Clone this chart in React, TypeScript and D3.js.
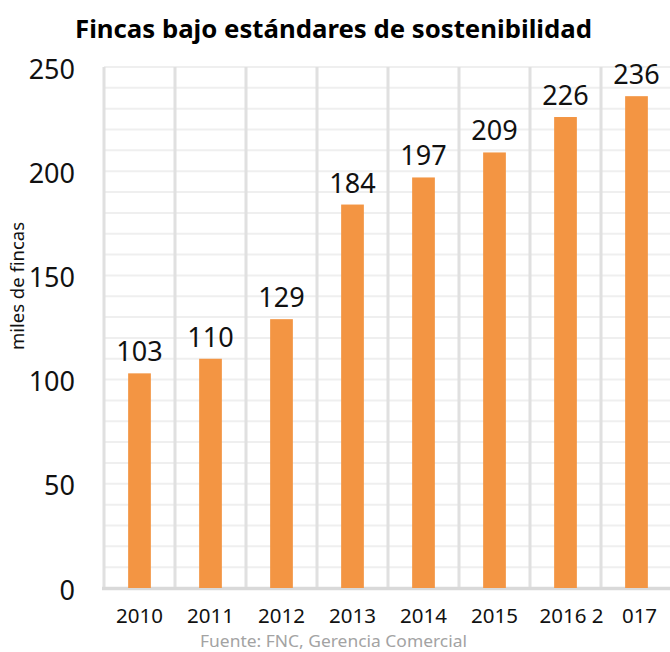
import React from "react";
import * as d3 from "d3";

const categories = ["2010", "2011", "2012", "2013", "2014", "2015", "2016", "2017"];
const tickLabels = ["2010", "2011", "2012", "2013", "2014", "2015", "2016 2", "017"];
const values = [103, 110, 129, 184, 197, 209, 226, 236];
const yTicks = [0, 50, 100, 150, 200, 250];
const gridStep = 10;

const W = 670;
const H = 652;
const FONT = "'Noto Sans', 'Open Sans', sans-serif";

export default function App() {
  const y = d3.scaleLinear().domain([0, 250]).range([588, 67]);
  const cells = d3.scaleBand<string>().domain(categories).range([104, 672]).padding(0);
  const x = d3
    .scaleBand<string>()
    .domain(categories)
    .range([104, 672])
    .paddingInner(0.68)
    .paddingOuter(0.34);

  const gridVals = d3.range(gridStep, 250 + gridStep / 2, gridStep);

  return (
    <svg
      width={W}
      height={H}
      style={{ position: "absolute", left: 0, top: 0, background: "#fff" }}
      fontFamily={FONT}
    >
      <rect x={0} y={0} width={W} height={H} fill="#fff" />
      {/* horizontal grid */}
      {gridVals.map((v) => (
        <line
          key={"h" + v}
          x1={104}
          x2={672}
          y1={y(v)}
          y2={y(v)}
          stroke="#efefef"
          strokeWidth={2}
        />
      ))}
      {/* vertical grid */}
      {categories.map((c) => (
        <line
          key={"v" + c}
          x1={cells(c)!}
          x2={cells(c)!}
          y1={y(250)}
          y2={y(0)}
          stroke="#e0e0e0"
          strokeWidth={3}
        />
      ))}
      {/* x axis line */}
      <line x1={102} x2={672} y1={y(0) + 0.5} y2={y(0) + 0.5} stroke="#d9d9d9" strokeWidth={3.5} />

      {/* bars */}
      {categories.map((c, i) => (
        <rect
          key={"b" + c}
          x={x(c)!}
          width={x.bandwidth()}
          y={y(values[i])}
          height={y(0) - y(values[i])}
          fill="#F39543"
        />
      ))}

      {/* value labels */}
      {categories.map((c, i) => (
        <text
          key={"l" + c}
          x={x(c)! + x.bandwidth() / 2}
          y={y(values[i]) - 12}
          textAnchor="middle"
          fontSize={27}
          fill="#111"
        >
          {values[i]}
        </text>
      ))}

      {/* y tick labels */}
      {yTicks.map((t) => (
        <text key={"y" + t} x={75} y={y(t) + 11.5} textAnchor="end" fontSize={27} fill="#111">
          {t}
        </text>
      ))}

      {/* x tick labels */}
      {categories.map((c, i) => (
        <text
          key={"x" + c}
          x={cells(c)! + cells.bandwidth() / 2}
          dx={tickLabels[i].length > 4 ? 6 : tickLabels[i].length < 4 ? 3 : 0}
          y={623}
          textAnchor="middle"
          fontSize={20.5}
          fill="#111"
        >
          {tickLabels[i]}
        </text>
      ))}

      {/* y axis title */}
      <text
        transform={`translate(24,286) rotate(-90)`}
        textAnchor="middle"
        fontSize={18}
        fill="#111"
        textLength={128}
        lengthAdjust="spacingAndGlyphs"
      >
        miles de fincas
      </text>

      {/* title */}
      <text
        x={75}
        y={38}
        fontSize={25}
        fontWeight="bold"
        fill="#000"
        textLength={517}
        lengthAdjust="spacingAndGlyphs"
      >
        Fincas bajo estándares de sostenibilidad
      </text>

      {/* source */}
      <text
        x={200}
        y={647}
        fontSize={16.5}
        fill="#a3a3a3"
        textLength={267}
        lengthAdjust="spacingAndGlyphs"
      >
        Fuente: FNC, Gerencia Comercial
      </text>
    </svg>
  );
}
